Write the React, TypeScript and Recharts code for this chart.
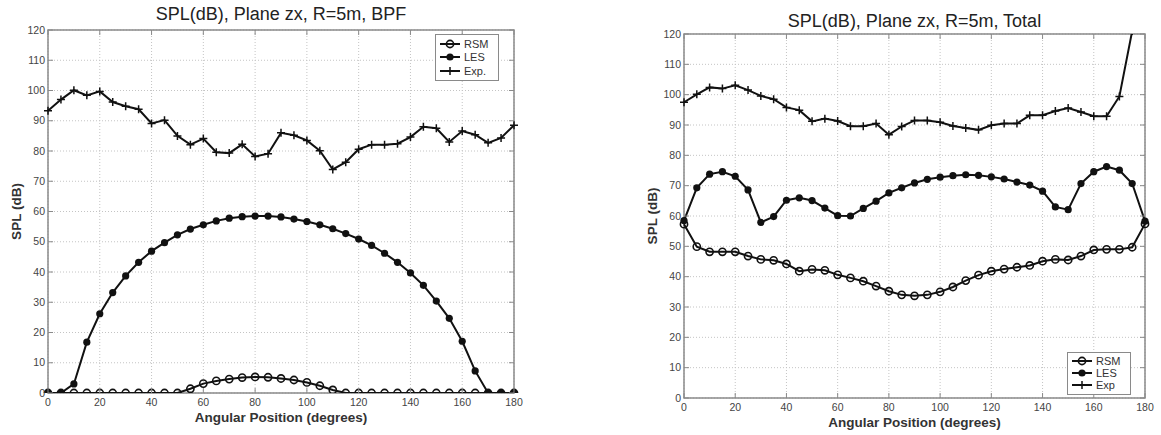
import { CartesianGrid, Legend, Line, LineChart, ReferenceArea, XAxis, YAxis } from 'recharts';

const angles = [
  0, 5, 10, 15, 20, 25, 30, 35, 40, 45, 50, 55, 60, 65, 70, 75, 80, 85, 90, 95, 100, 105, 110, 115,
  120, 125, 130, 135, 140, 145, 150, 155, 160, 165, 170, 175, 180,
];

// BPF panel
const bpfRsm = [
  0, 0, 0, 0, 0, 0, 0, 0, 0, 0, 0, 1.4, 3.1, 4.0, 4.6, 5.1, 5.3, 5.2, 4.8, 4.3, 3.5, 2.4, 1.0, 0,
  0, 0, 0, 0, 0, 0, 0, 0, 0, 0, 0, 0, 0,
];
const bpfLes = [
  0, 0, 3.0, 16.8, 26.2, 33.2, 38.7, 43.2, 46.9, 49.7, 52.3, 54.2, 55.6, 56.9, 57.8, 58.3, 58.5,
  58.5, 58.2, 57.5, 56.7, 55.6, 54.3, 52.7, 50.9, 48.8, 46.2, 43.2, 39.7, 35.6, 30.4, 24.7, 17.1,
  7.3, 0, 0, 0,
];
const bpfExp = [
  93.3, 97.0, 100.1, 98.4, 99.7, 96.2, 94.8, 93.8, 89.1, 90.2, 85.0, 82.1, 84.1, 79.6, 79.3, 82.2,
  78.2, 79.1, 86.0, 85.2, 83.5, 80.1, 73.9, 76.3, 80.6, 82.1, 82.1, 82.4, 84.6, 88.0, 87.5, 83.0,
  86.6, 85.4, 82.7, 84.3, 88.5,
];

// Total panel
const totRsm = [
  57.3, 49.9, 48.2, 48.2, 48.2, 46.8, 45.7, 45.4, 44.2, 41.8, 42.4, 42.1, 40.6, 39.6, 38.5, 36.9,
  35.2, 34.0, 33.7, 34.0, 35.0, 36.6, 38.7, 40.5, 41.8, 42.5, 43.1, 43.7, 45.1, 45.7, 45.5, 46.8,
  48.8, 49.0, 49.0, 49.7, 57.4,
];
const totLes = [
  58.5, 69.3, 73.8, 74.6, 73.1, 68.6, 57.9, 59.8, 65.2, 66.0, 65.1, 62.6, 60.1, 60.0, 62.5, 64.9,
  67.6, 69.3, 70.9, 72.1, 72.8, 73.3, 73.6, 73.4, 72.9, 72.2, 71.2, 70.2, 68.2, 63.0, 62.1, 70.7,
  74.6, 76.3, 75.1, 70.7, 58.3,
];
const totExp = [
  97.5, 100.1, 102.4, 102.0, 103.1, 101.5, 99.6, 98.5, 95.8, 94.9, 91.2, 92.1, 91.3, 89.6, 89.6,
  90.5, 86.8, 89.5, 91.5, 91.5, 90.9, 89.7, 89.0, 88.4, 89.9, 90.5, 90.5, 93.2, 93.2, 94.6, 95.6,
  94.3, 92.9, 92.9, 99.4, 121, 142,
];

const xTicks = [0, 20, 40, 60, 80, 100, 120, 140, 160, 180];
const yTicks = [0, 10, 20, 30, 40, 50, 60, 70, 80, 90, 100, 110, 120];

const FONT = '"Liberation Sans", Arial, Helvetica, sans-serif';
const FRAME = '#8a8a8a';

const openDot = (p: any) =>
  p.cx == null ? (
    <g key={p.index} />
  ) : (
    <circle key={p.index} cx={p.cx} cy={p.cy} r={3.6} fill="none" stroke="#111" strokeWidth={1.6} />
  );
const fullDot = (p: any) =>
  p.cx == null ? <g key={p.index} /> : <circle key={p.index} cx={p.cx} cy={p.cy} r={3.6} fill="#111" />;
const plusDot = (p: any) =>
  p.cx == null ? (
    <g key={p.index} />
  ) : (
    <path
      key={p.index}
      d={`M${p.cx - 4},${p.cy}H${p.cx + 4}M${p.cx},${p.cy - 4}V${p.cy + 4}`}
      stroke="#111"
      strokeWidth={1.5}
    />
  );

function LegendBox({ names, rowH }: { names: string[]; rowH: number }) {
  const icons = [openDot, fullDot, plusDot];
  return (
    <div
      style={{
        width: 64,
        boxSizing: 'border-box',
        border: `1px solid ${FRAME}`,
        background: '#fff',
        padding: '2px 4px 2px 4px',
        fontFamily: FONT,
        fontSize: 11,
        color: '#333',
      }}
    >
      {names.map((n, i) => (
        <div key={n} style={{ display: 'flex', alignItems: 'center', height: rowH }}>
          <svg width={20} height={10} style={{ marginRight: 4 }}>
            <line x1={0} x2={20} y1={5} y2={5} stroke="#111" strokeWidth={2} />
            {icons[i]({ cx: 10, cy: 5, index: 0 })}
          </svg>
          <span>{n}</span>
        </div>
      ))}
    </div>
  );
}

type PanelProps = {
  title: string;
  rsm: number[];
  les: number[];
  exp: number[];
  names: string[];
  left: number;
  width: number;
  top: number;
  right: number;
  xAxisHeight: number;
  titleTop: number;
  legendPos: { left: number; top: number };
  legendRow: number;
};

function Panel(p: PanelProps) {
  const height = 435;
  const plotLeft = 48;
  const plotTop = p.top;
  const plotRight = p.width - p.right;
  const plotBottom = height - p.xAxisHeight;
  const data = angles.map((a, i) => ({ angle: a, rsm: p.rsm[i], les: p.les[i], exp: p.exp[i] }));

  const xTick = (t: any) => (
    <g>
      <line x1={t.x} x2={t.x} y1={plotBottom} y2={plotBottom - 5} stroke={FRAME} />
      <line x1={t.x} x2={t.x} y1={plotTop} y2={plotTop + 5} stroke={FRAME} />
      <text x={t.x} y={plotBottom + 13} textAnchor="middle" fontSize={10.5} fill="#444" fontFamily={FONT}>
        {t.payload.value}
      </text>
    </g>
  );
  const yTick = (t: any) => (
    <g>
      <line x1={plotLeft} x2={plotLeft + 5} y1={t.y} y2={t.y} stroke={FRAME} />
      <line x1={plotRight} x2={plotRight - 5} y1={t.y} y2={t.y} stroke={FRAME} />
      <text x={plotLeft - 3} y={t.y + 3.5} textAnchor="end" fontSize={10.5} fill="#444" fontFamily={FONT}>
        {t.payload.value}
      </text>
    </g>
  );

  return (
    <div style={{ position: 'absolute', left: p.left, top: 0, width: p.width, height }}>
      <div
        style={{
          position: 'absolute',
          left: plotLeft,
          width: plotRight - plotLeft,
          top: p.titleTop,
          textAlign: 'center',
          fontFamily: FONT,
          fontSize: 18,
          lineHeight: '20px',
          color: '#222',
        }}
      >
        {p.title}
      </div>
      <LineChart
        width={p.width}
        height={height}
        data={data}
        margin={{ top: p.top, right: p.right, left: 0, bottom: 0 }}
      >
        <CartesianGrid stroke="#c4c4c4" strokeDasharray="1 2" />
        <XAxis
          dataKey="angle"
          type="number"
          domain={[0, 180]}
          ticks={xTicks}
          height={p.xAxisHeight}
          axisLine={false}
          tickLine={false}
          tick={xTick}
          label={({ viewBox }: any) => (
            <text
              x={viewBox.x + viewBox.width / 2}
              y={viewBox.y + 29}
              textAnchor="middle"
              fontSize={13.5}
              fontWeight="bold"
              fill="#333"
              fontFamily={FONT}
            >
              Angular Position (degrees)
            </text>
          )}
        />
        <YAxis
          type="number"
          domain={[0, 120]}
          allowDataOverflow
          ticks={yTicks}
          width={plotLeft}
          axisLine={false}
          tickLine={false}
          tick={yTick}
          label={({ viewBox }: any) => {
            const cx = viewBox.x + 16.5;
            const cy = viewBox.y + viewBox.height / 2;
            return (
              <text
                x={cx}
                y={cy}
                transform={`rotate(-90, ${cx}, ${cy})`}
                textAnchor="middle"
                dominantBaseline="central"
                fontSize={13.5}
                fontWeight="bold"
                fill="#333"
                fontFamily={FONT}
              >
                SPL (dB)
              </text>
            );
          }}
        />
        <ReferenceArea x1={0} x2={180} y1={0} y2={120} fill="none" stroke={FRAME} strokeWidth={1.5} />
        <Line dataKey="rsm" stroke="#111" strokeWidth={2} dot={openDot} isAnimationActive={false} />
        <Line dataKey="les" stroke="#111" strokeWidth={2} dot={fullDot} isAnimationActive={false} />
        <Line dataKey="exp" stroke="#111" strokeWidth={2} dot={plusDot} isAnimationActive={false} />
        <Legend
          layout="vertical"
          align="center"
          verticalAlign="middle"
          wrapperStyle={{ position: 'absolute', left: p.legendPos.left, top: p.legendPos.top, width: 'auto' }}
          content={() => <LegendBox names={p.names} rowH={p.legendRow} />}
        />
      </LineChart>
    </div>
  );
}

export default function App() {
  return (
    <div style={{ position: 'absolute', left: 0, top: 0, width: 1161, height: 435, background: '#fff' }}>
      <Panel
        title="SPL(dB), Plane zx, R=5m, BPF"
        rsm={bpfRsm}
        les={bpfLes}
        exp={bpfExp}
        names={['RSM', 'LES', 'Exp.']}
        left={0}
        width={540}
        top={30}
        right={26}
        xAxisHeight={42}
        titleTop={4}
        legendPos={{ left: 435, top: 34 }}
        legendRow={13.5}
      />
      <Panel
        title="SPL(dB), Plane zx, R=5m, Total"
        rsm={totRsm}
        les={totLes}
        exp={totExp}
        names={['RSM', 'LES', 'Exp']}
        left={636}
        width={525}
        top={34}
        right={16}
        xAxisHeight={37}
        titleTop={11}
        legendPos={{ left: 431, top: 352 }}
        legendRow={12.2}
      />
    </div>
  );
}
